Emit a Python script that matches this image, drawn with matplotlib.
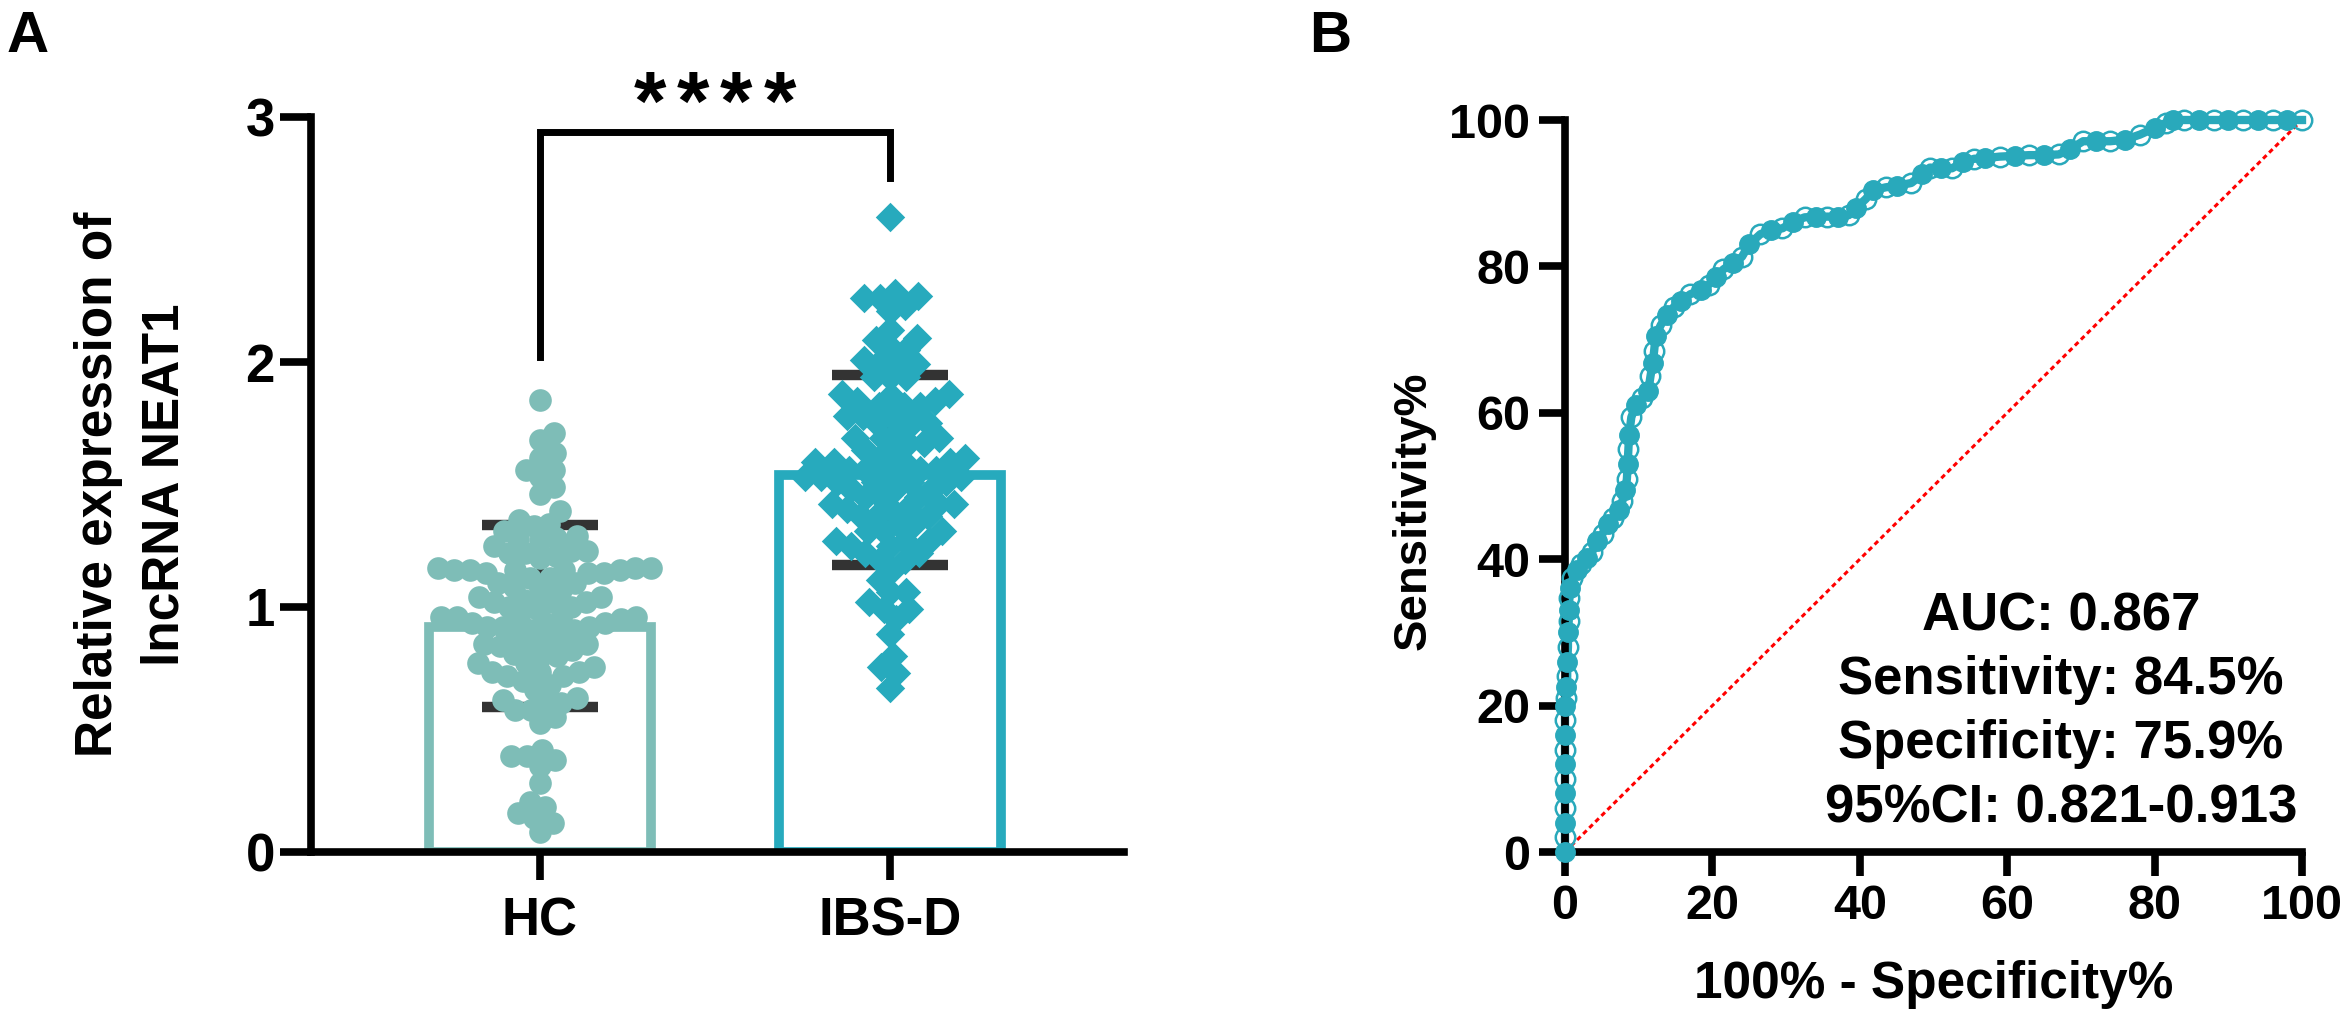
import numpy as np
import matplotlib
matplotlib.use("Agg")
import matplotlib.pyplot as plt

plt.rcParams['font.family'] = ['Liberation Sans', 'DejaVu Sans']
plt.rcParams['font.weight'] = 'bold'

# ---- panel A data ----
groups = ['HC', 'IBS-D']
hc_values = [1.845, 1.71, 1.68, 1.63, 1.61, 1.56, 1.56, 1.53, 1.49, 1.46, 1.39, 1.355,
             1.34, 1.33, 1.31, 1.29, 1.28, 1.28, 1.27, 1.25, 1.23, 1.23, 1.22, 1.22,
             1.21, 1.20, 1.16, 1.16, 1.16, 1.15, 1.15, 1.15, 1.15, 1.15, 1.14, 1.14,
             1.14, 1.12, 1.12, 1.10, 1.10, 1.08, 1.07, 1.07, 1.04, 1.04, 1.03, 1.02,
             1.02, 1.02, 1.00, 1.00, 0.99, 0.96, 0.96, 0.96, 0.95, 0.95, 0.95, 0.935,
             0.935, 0.935, 0.92, 0.92, 0.92, 0.905, 0.905, 0.88, 0.88, 0.865, 0.85, 0.85,
             0.84, 0.84, 0.825, 0.81, 0.80, 0.80, 0.77, 0.77, 0.755, 0.735, 0.735, 0.735,
             0.72, 0.72, 0.70, 0.68, 0.66, 0.63, 0.62, 0.61, 0.61, 0.58, 0.58, 0.55,
             0.525, 0.415, 0.39, 0.39, 0.375, 0.35, 0.28, 0.205, 0.185, 0.16, 0.14, 0.12, 0.08]
ibs_values = [2.59, 2.26, 2.28, 2.27, 2.26, 2.23, 2.21, 2.10, 2.13, 2.09, 2.06, 2.05,
              2.00, 2.00, 2.01, 1.99, 1.94, 1.94, 1.94, 1.87, 1.87, 1.86, 1.84, 1.84,
              1.82, 1.82, 1.82, 1.78, 1.78, 1.78, 1.75, 1.75, 1.75, 1.72, 1.69, 1.69,
              1.69, 1.67, 1.67, 1.64, 1.64, 1.61, 1.61, 1.59, 1.59, 1.59, 1.59, 1.56,
              1.56, 1.56, 1.56, 1.56, 1.53, 1.53, 1.53, 1.51, 1.51, 1.51, 1.51, 1.48,
              1.48, 1.48, 1.45, 1.45, 1.45, 1.42, 1.42, 1.42, 1.40, 1.40, 1.40, 1.37,
              1.37, 1.37, 1.34, 1.34, 1.31, 1.31, 1.31, 1.27, 1.27, 1.27, 1.25, 1.25,
              1.22, 1.22, 1.19, 1.19, 1.15, 1.11, 1.06, 1.06, 1.02, 0.99, 0.99, 0.95,
              0.89, 0.80, 0.755, 0.73, 0.67]
bar_heights = [0.92, 1.54]
err_low = [0.59, 1.17]
err_high = [1.335, 1.945]
bracket_y = [2.02, 2.94, 2.94, 2.75]
sig_label = '****'

# ---- panel B data (ROC, 100% - specificity vs sensitivity) ----
fpr = [0, 0, 0, 0, 0, 0, 0, 0, 0, 0, 0, 0.2, 0.2, 0.3, 0.3, 0.4, 0.4, 0.5, 0.5, 0.6,
       0.7, 1.0, 1.6, 2.2, 3.0, 3.7, 4.3, 5.1, 5.8, 6.5, 7.3, 7.8, 8.2, 8.4, 8.5, 8.6,
       8.7, 9.0, 9.6, 10.5, 11.3, 11.6, 11.9, 12.1, 12.3, 13.0, 13.8, 14.8, 15.8, 17.0,
       18.5, 19.5, 20.5, 21.5, 22.8, 24.0, 25.0, 26.5, 28.0, 29.5, 31.0, 32.5, 34.0,
       35.5, 37.0, 38.5, 39.5, 40.8, 41.8, 43.5, 45.0, 47.0, 48.5, 49.5, 51.0, 52.5,
       54.0, 55.5, 57.0, 59.0, 61.0, 63.0, 65.0, 67.0, 68.5, 70.3, 72.0, 74.0, 76.0,
       78.0, 80.0, 81.5, 82.5, 84.0, 86.0, 88.0, 90.0, 92.0, 94.0, 96.0, 98.0, 100]
sens = [0, 2, 4, 6, 8, 10, 12, 14, 16, 18, 20, 21, 22.5, 24, 26, 28, 30, 31.5, 33, 34.7,
        36, 37.5, 38.5, 39.3, 40.2, 41, 42.5, 43.5, 44.8, 45.6, 46.7, 48, 49.5, 51, 53,
        55, 57, 59.4, 61, 62, 63, 65, 66.8, 68.5, 70.5, 72, 73.3, 74.5, 75.3, 76.2,
        76.8, 77.5, 78.6, 79.6, 80.5, 81.3, 83, 84.4, 85, 85.2, 86.1, 86.7, 86.8,
        86.8, 86.8, 87, 88, 89.2, 90.4, 90.8, 91, 91.4, 92.6, 93.5, 93.4, 93.4,
        94.2, 94.7, 94.8, 95, 95.1, 95.2, 95.2, 95.3, 96, 97.1, 97.1, 97.1, 97.3,
        98, 98.9, 99.6, 100, 100, 100, 100, 100, 100, 100, 100, 100, 100]
roc_text = ['AUC: 0.867', 'Sensitivity: 84.5%', 'Specificity: 75.9%', '95%CI: 0.821-0.913']

hc_color = '#7EBDB7'
ibs_color = '#27AABD'
roc_color = '#29A9BB'

W, H = 2344, 1032
fig = plt.figure(figsize=(W / 100, H / 100), dpi=100)
axA = fig.add_axes([311 / W, 1 - 852 / H, (1124 - 311) / W, (852 - 117) / H])
axB = fig.add_axes([1565 / W, 1 - 852 / H, (2302 - 1565) / W, (852 - 120) / H])


def swarm_offsets(vals, dmin, xscale, yscale):
    # simple beeswarm: place each point as close to the centre as possible
    vals = np.asarray(vals)
    offs = np.zeros(len(vals))
    placed = []
    for i in np.argsort(vals):
        y = vals[i] * yscale
        near = [(px, py) for px, py in placed if abs(py - y) < dmin]
        cands = [0.0]
        for px, py in near:
            dx = np.sqrt(dmin ** 2 - (py - y) ** 2)
            cands += [px + dx, px - dx]
        cands.sort(key=abs)
        for c in cands:
            if all((c - px) ** 2 + (y - py) ** 2 >= dmin ** 2 - 1e-6 for px, py in near):
                break
        placed.append((c, y))
        offs[i] = c / xscale
    return offs


# ---------- panel A ----------
axA.set_xlim(-0.654, 1.669)
axA.set_ylim(0, 3)
x = np.arange(len(groups))
colors = [hc_color, ibs_color]
axA.bar(x, bar_heights, width=0.635, facecolor='white', edgecolor=colors,
        linewidth=7, zorder=1)
axA.errorbar(x, bar_heights,
             yerr=[np.array(bar_heights) - np.array(err_low),
                   np.array(err_high) - np.array(bar_heights)],
             fmt='none', ecolor='#333333', elinewidth=5, capsize=42, capthick=7.5,
             zorder=2)
px_x, px_y = 350, 245
off_hc = swarm_offsets(hc_values, 16, px_x, px_y)
off_ibs = swarm_offsets(ibs_values, 16, px_x, px_y)
axA.scatter(x[0] + off_hc, hc_values, s=16.3 ** 2, marker='o', color=hc_color,
            linewidths=0, zorder=3, clip_on=False)
axA.scatter(x[1] + off_ibs, ibs_values, s=15 ** 2, marker='D', color=ibs_color,
            linewidths=0, zorder=3, clip_on=False)

axA.plot([x[0], x[0], x[1], x[1]], bracket_y, color='black', lw=5,
         solid_joinstyle='miter', clip_on=False)
# significance stars, spread out like the original
n_star = len(sig_label)
for k, ch in enumerate(sig_label):
    axA.text(0.5 + (k - (n_star - 1) / 2) * 0.123, 2.947, ch, ha='center',
             va='baseline', fontsize=60, fontweight='bold')

axA.spines['top'].set_visible(False)
axA.spines['right'].set_visible(False)
for s in ['left', 'bottom']:
    axA.spines[s].set_linewidth(5.5)
axA.spines['left'].set_bounds(0, 3)
axA.set_yticks([0, 1, 2, 3])
axA.set_xticks(x)
axA.set_xticklabels(groups)
axA.tick_params(axis='y', length=22, width=5.5, labelsize=38, pad=4)
axA.tick_params(axis='x', length=20, width=5.5, labelsize=38, pad=12)
axA.set_ylabel('Relative expression of\nlncRNA NEAT1', fontsize=37, fontweight='bold',
               linespacing=1.45)
axA.yaxis.set_label_coords(-0.150, 0.5)

# ---------- panel B ----------
axB.set_xlim(0, 100)
axB.set_ylim(0, 100)
axB.plot([0, 100], [0, 100], color='#ff0000', lw=2.2, ls=(0, (1.6, 1.2)), zorder=1)
axB.plot(fpr, sens, color=roc_color, lw=6, zorder=2, clip_on=False)
axB.plot(fpr[::2], sens[::2], 'o', ms=14, color=roc_color, zorder=3, clip_on=False)
axB.plot(fpr[1::2], sens[1::2], 'o', ms=14, mfc='none', mec=roc_color, mew=1.8,
         zorder=3, clip_on=False)

axB.spines['top'].set_visible(False)
axB.spines['right'].set_visible(False)
for s in ['left', 'bottom']:
    axB.spines[s].set_linewidth(5.5)
axB.set_xticks(range(0, 101, 20))
axB.set_yticks(range(0, 101, 20))
axB.tick_params(axis='y', length=19, width=5.5, labelsize=35, pad=6)
axB.tick_params(axis='x', length=17, width=5.5, labelsize=35, pad=6)
axB.set_ylabel('Sensitivity%', fontsize=34, fontweight='bold')
axB.yaxis.set_label_coords(-0.176, 0.466)
axB.set_xlabel('100% - Specificity%', fontsize=37, fontweight='bold')
axB.xaxis.set_label_coords(0.5, -0.147)

for k, line in enumerate(roc_text):
    axB.text(0.673, 0.303 - k * 0.0875, line, transform=axB.transAxes, ha='center',
             va='baseline', fontsize=38, fontweight='bold')

fig.text(7 / W, 1 - 52 / H, 'A', fontsize=42, fontweight='bold', va='baseline')
fig.text(1309 / W, 1 - 52 / H, 'B', fontsize=42, fontweight='bold', va='baseline')

fig.savefig('out.png', dpi=100, facecolor='white')
